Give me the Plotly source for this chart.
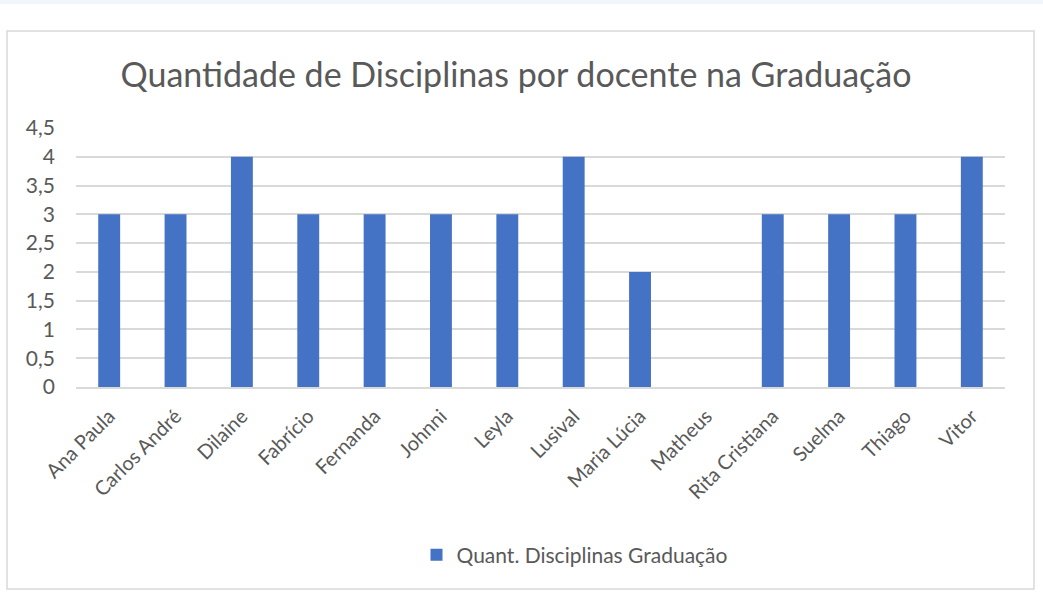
import plotly.graph_objects as go

docentes = [
    "Ana Paula", "Carlos André", "Dilaine", "Fabrício", "Fernanda", "Johnni",
    "Leyla", "Lusival", "Maria Lúcia", "Matheus", "Rita Cristiana", "Suelma",
    "Thiago", "Vitor",
]
disciplinas = [3, 3, 4, 3, 3, 3, 3, 4, 2, 0, 3, 3, 3, 4]
y_ticks = [0, 0.5, 1, 1.5, 2, 2.5, 3, 3.5, 4, 4.5]

FONT = "Lato"
GRAY = "#595959"

fig = go.Figure()
fig.add_trace(
    go.Bar(
        x=docentes,
        y=disciplinas,
        name="Quant. Disciplinas Graduação",
        marker=dict(color="#4472C4", line=dict(width=0)),
        showlegend=True,
    )
)

# plot area in pixels: x 76..1005, y 128..387
W, H = 1043, 609
L, R, T, B = 76, 1005, 128, 387


def px(x):
    return (x - L) / (R - L)


def py(y):
    return (B - y) / (B - T)


# outer chart border and top strip
fig.add_shape(
    type="rect", xref="paper", yref="paper",
    x0=px(7), x1=px(1034), y0=py(589), y1=py(31),
    line=dict(color="#d9d9d9", width=1.5), fillcolor="rgba(0,0,0,0)",
    layer="below",
)
fig.add_shape(
    type="rect", xref="paper", yref="paper",
    x0=px(0), x1=px(W), y0=py(4), y1=py(0),
    line=dict(width=0), fillcolor="#f0f6fc", layer="below",
)

fig.update_layout(
    width=W,
    height=H,
    margin=dict(l=L, r=W - R, t=T, b=H - B),
    paper_bgcolor="white",
    plot_bgcolor="white",
    separators=",.",
    bargap=0.67,
    font=dict(family=FONT, color=GRAY),
    title=dict(
        text="Quantidade de Disciplinas por docente na Graduação",
        x=516 / W, xanchor="center", xref="container",
        y=1 - 75 / H, yanchor="middle",
        font=dict(family=FONT, size=34, color=GRAY),
    ),
    legend=dict(
        orientation="h", x=px(575), xanchor="center",
        y=py(555), yanchor="middle",
        font=dict(family=FONT, size=21, color=GRAY),
        itemwidth=30,
    ),
)
fig.update_xaxes(
    tickangle=-45,
    tickfont=dict(family=FONT, size=20, color=GRAY),
    ticklabelstandoff=8,
    showline=True, linecolor="#d9d9d9", linewidth=1.5,
    ticks="", showgrid=False,
)
fig.update_yaxes(
    range=[0, 4.5],
    tickvals=y_ticks,
    tickfont=dict(family=FONT, size=21, color=GRAY),
    ticklabelstandoff=20,
    showgrid=True, gridcolor="#d9d9d9", gridwidth=1.5,
    zeroline=False, ticks="", showline=False,
)

fig.write_html(
    "out.html",
    config={"displayModeBar": False},
    post_script="document.body.style.margin='0';",
)
